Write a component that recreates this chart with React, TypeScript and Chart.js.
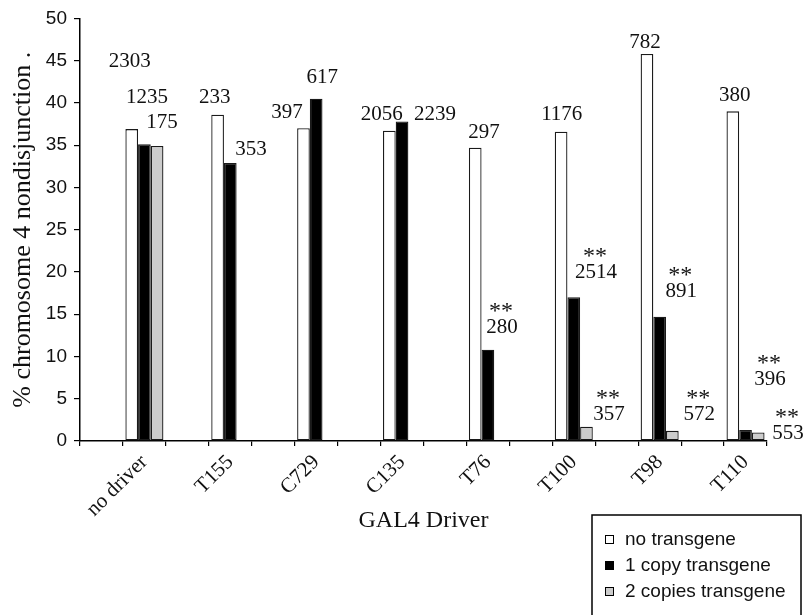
import React, { useEffect, useRef } from "react";
import { Chart, registerables } from "chart.js";

Chart.register(...registerables);

// ---- data ----
const drivers = ["no driver", "T155", "C729", "C135", "T76", "T100", "T98", "T110"];
const seriesNames = ["no transgene", "1 copy transgene", "2 copies transgene"];
const noTransgene = [36.9, 38.6, 37.0, 36.7, 34.7, 36.6, 45.8, 39.0];
const oneCopy = [35.1, 32.9, 40.5, 37.8, 10.8, 17.0, 14.7, 1.3];
const twoCopies: (number | null)[] = [34.9, null, null, null, null, 1.7, 1.2, 1.0];
const yTickValues = [0, 5, 10, 15, 20, 25, 30, 35, 40, 45, 50];

// sample sizes (n) written above the bars, and significance marks
const nNoTransgene = ["2303", "233", "397", "2056", "297", "1176", "782", "380"];
const nOneCopy = ["1235", "353", "617", "2239", "280", "2514", "891", "396"];
const nTwoCopies: (string | null)[] = ["175", null, null, null, null, "357", "572", "553"];
const sigOneCopy = [false, false, false, false, true, true, true, true];
const sigTwoCopies = [false, false, false, false, false, true, true, true];

// where each n label sits, in data coordinates (x: category slot, y: %)
const nNoTransgeneX = [0.66, 2.64, 4.32, 6.53, 8.91, 10.72, 12.66, 14.75];
const nNoTransgeneY = [45.1, 40.8, 39.0, 38.8, 36.7, 38.8, 47.3, 41.0];
const nOneCopyX = [1.06, 3.48, 5.14, 7.77, 9.33, 11.52, 13.5, 15.57];
const nOneCopyY = [40.8, 34.7, 43.2, 38.8, 13.6, 20.1, 17.8, 7.4];
const nTwoCopiesX = [1.41, 0, 0, 0, 0, 11.82, 13.92, 15.99];
const nTwoCopiesY = [37.8, 0, 0, 0, 0, 3.3, 3.3, 1.1];

const xTitle = "GAL4 Driver";
const yTitle = "% chromosome 4 nondisjunction .";

// each driver occupies every other category slot (blank slots in between)
const slots = drivers.flatMap((d) => ["", d]);
const spread = (arr: (number | null)[]) => arr.flatMap((v) => [null, v]);

const colors = ["#ffffff", "#000000", "#cccccc"];

const SERIF = '"Liberation Serif", "Times New Roman", serif';
const SANS = '"Liberation Sans", Arial, sans-serif';

const nLabelsPlugin = {
  id: "nLabels",
  afterDatasetsDraw(chart: any) {
    const { ctx } = chart;
    const xs = chart.scales.x;
    const ys = chart.scales.y;
    const fs = 21;
    ctx.save();
    ctx.fillStyle = "#111";
    ctx.textAlign = "center";
    ctx.textBaseline = "alphabetic";
    const groups: [(string | null)[], number[], number[], boolean[] | null][] = [
      [nNoTransgene, nNoTransgeneX, nNoTransgeneY, null],
      [nOneCopy, nOneCopyX, nOneCopyY, sigOneCopy],
      [nTwoCopies, nTwoCopiesX, nTwoCopiesY, sigTwoCopies],
    ];
    for (const [texts, xsArr, ysArr, sig] of groups) {
      texts.forEach((t, i) => {
        if (!t) return;
        const px = xs.getPixelForValue(xsArr[i]);
        const py = ys.getPixelForValue(ysArr[i]);
        const base = py + fs * 0.33;
        ctx.font = `${fs}px ${SERIF}`;
        ctx.fillText(t, px, base);
        if (sig && sig[i]) {
          ctx.font = `24px ${SERIF}`;
          ctx.fillText("**", px - 1, base - 15);
        }
      });
    }
    ctx.restore();
  },
};

const boxLegendPlugin = {
  id: "boxLegend",
  afterDraw(chart: any) {
    const { ctx, chartArea } = chart;
    const left = chartArea.right - 175;
    const top = chartArea.bottom + 74;
    const right = chart.width - 2;
    const bottom = chart.height + 10;
    ctx.save();
    ctx.strokeStyle = "#000";
    ctx.lineWidth = 1.5;
    ctx.fillStyle = "#fff";
    ctx.fillRect(left, top, right - left, bottom - top);
    ctx.strokeRect(left, top, right - left, bottom - top);
    ctx.font = `19px ${SANS}`;
    ctx.textBaseline = "middle";
    ctx.textAlign = "left";
    chart.data.datasets.forEach((ds: any, i: number) => {
      const cy = top + 24 + i * 26;
      ctx.fillStyle = ds.backgroundColor;
      ctx.fillRect(left + 13, cy - 4, 9, 9);
      ctx.lineWidth = 1;
      ctx.strokeStyle = "#000";
      ctx.strokeRect(left + 13.5, cy - 3.5, 8, 8);
      ctx.fillStyle = "#111";
      ctx.fillText(ds.label, left + 33, cy + 1);
    });
    ctx.restore();
  },
};

export default function App() {
  const ref = useRef<HTMLCanvasElement | null>(null);
  useEffect(() => {
    if (!ref.current) return;
    const datasets = [noTransgene, oneCopy, twoCopies].map((vals, i) => ({
      label: seriesNames[i],
      data: spread(vals),
      backgroundColor: colors[i],
      borderColor: "#1a1a1a",
      borderWidth: 1.3,
      borderSkipped: false,
      categoryPercentage: 0.886,
      barPercentage: 1,
    }));
    const chart = new Chart(ref.current, {
      type: "bar",
      data: { labels: slots, datasets },
      plugins: [nLabelsPlugin, boxLegendPlugin],
      options: {
        animation: false,
        responsive: false,
        layout: { padding: { top: 15, right: 36, left: 0, bottom: 0 } },
        plugins: {
          legend: { display: false },
          tooltip: { enabled: false },
        },
        scales: {
          x: {
            offset: true,
            afterFit: (s: any) => {
              s.height = 174;
            },
            grid: {
              display: true,
              drawOnChartArea: false,
              drawTicks: true,
              tickLength: 5,
              offset: true,
              color: "#000",
              lineWidth: 1.2,
            },
            border: { display: true, color: "#000", width: 1.5 },
            ticks: {
              autoSkip: false,
              maxRotation: 45,
              minRotation: 45,
              padding: 4,
              color: "#111",
              font: { family: SERIF, size: 21 },
            },
            title: {
              display: true,
              text: xTitle,
              color: "#111",
              font: { family: SERIF, size: 24 },
              padding: { top: 0, bottom: 80 },
            },
          },
          y: {
            min: 0,
            max: 50,
            afterFit: (s: any) => {
              s.width = 80;
            },
            afterBuildTicks: (s: any) => {
              s.ticks = yTickValues.map((v) => ({ value: v }));
            },
            grid: {
              display: true,
              drawOnChartArea: false,
              drawTicks: true,
              tickLength: 6,
              color: "#000",
              lineWidth: 1.2,
            },
            border: { display: true, color: "#000", width: 1.5 },
            ticks: {
              padding: 7,
              color: "#111",
              font: { family: SANS, size: 19 },
            },
            title: {
              display: true,
              text: yTitle,
              color: "#111",
              font: { family: SERIF, size: 26 },
              padding: { top: 8, bottom: 0 },
            },
          },
        },
      },
    });
    return () => chart.destroy();
  }, []);
  return (
    <div style={{ position: "fixed", left: 0, top: 0, width: 803, height: 615, background: "#fff" }}>
      <canvas ref={ref} width={803} height={615} style={{ display: "block", width: 803, height: 615 }} />
    </div>
  );
}
